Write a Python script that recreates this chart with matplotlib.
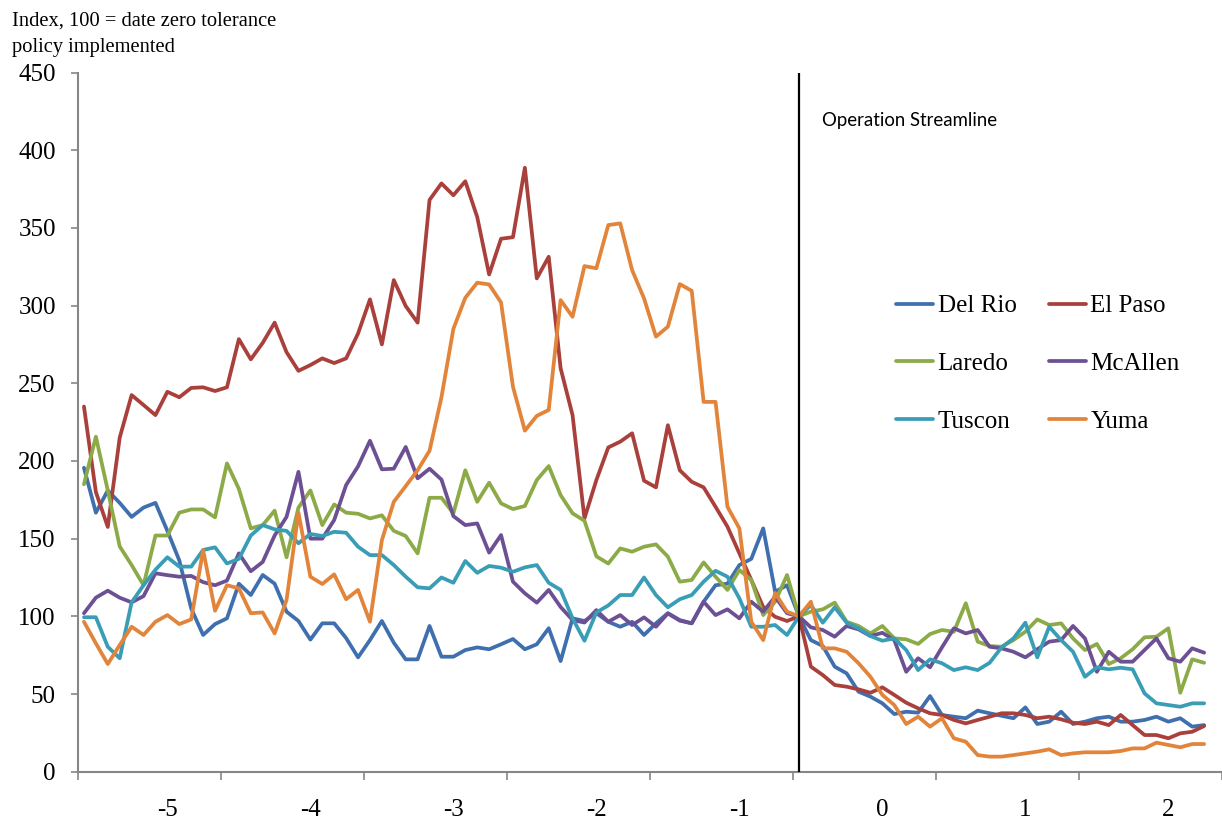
import matplotlib
matplotlib.use("Agg")
import matplotlib.pyplot as plt
import numpy as np

plt.rcParams['font.family'] = ['Liberation Serif', 'DejaVu Serif']

# ---- data (index, 100 = date zero tolerance policy implemented) ----
del_rio = [195.6, 166.7, 181, 173, 164, 170, 173, 155, 136, 105, 88, 95, 98.7, 121, 113.7, 126.6,
           121, 103, 97, 85, 95.5, 95.5, 86, 73.6, 84.7, 97, 83, 72.3, 72.3, 93.8, 74, 74,
           78.3, 80, 78.8, 82, 85.4, 78.8, 82, 92.3, 71.2, 98.7, 97, 102, 96.5, 93.3, 96.5, 88,
           95.5, 102, 97.6, 95.5, 109.4, 120, 121, 133, 137, 156.6, 115.8, 120, 100, 84.7, 80.9, 67.6,
           63.3, 51.5, 48.3, 44, 37.1, 38.6, 38, 48.7, 36.5, 35.4, 34.4, 39.3, 37.6, 36, 34.4, 41.4,
           30.7, 32.2, 38.6, 30.7, 32.2, 34.4, 35.4, 32.2, 32.2, 33.3, 35.4, 32.2, 34.4, 29, 30]
el_paso = [235, 180, 157.5, 215, 242.4, 236, 229.5, 244.5, 241, 247, 247.4, 245, 247.4, 278.4, 265.4, 276,
           289, 270, 258, 261.7, 266, 263, 266, 282, 304, 275, 316.4, 299.7, 289, 368, 378.6, 371,
           380, 357, 320, 343, 344, 388.7, 317.5, 331.4, 259.6, 229.5, 163, 187.7, 208.7, 212.4, 217.8, 187.3,
           183, 223, 194, 186.6, 183, 170.5, 157.7, 140.5, 123.4, 106, 99.7, 97, 100, 67.6, 62.2, 55.8,
           54.7, 53, 50.8, 54.3, 49.4, 44.4, 40.8, 37.6, 36.5, 33.3, 31.1, 33.3, 35.4, 37.6, 37.6, 36.5,
           34.4, 35.4, 33.7, 31.5, 30.7, 32.2, 30, 36.5, 30, 23.6, 23.6, 21.5, 24.7, 25.7, 29.4]
laredo = [185, 215.6, 181, 145, 133, 120, 152, 152, 166.7, 168.8, 168.8, 163.7, 198.4, 182, 156.6, 158.7,
          168, 138, 170, 181, 158.7, 172, 166.7, 166, 163, 165, 155, 151.7, 140.5, 176.3, 176.3, 166.3,
          194, 173.7, 186, 172.7, 169, 171, 187.7, 196.7, 178, 166.3, 161.5, 138.6, 134, 143.7, 141.6, 144.8,
          146.3, 138.4, 122.3, 123.4, 134.7, 125.5, 117, 129.8, 123.4, 100.8, 109.4, 126.6, 100, 103, 104.5, 108.8,
          96.5, 93.8, 89, 93.8, 85.8, 85.2, 82.2, 88.6, 91.2, 90.1, 108.4, 83.7, 80.9, 80.4, 84.7, 90.1,
          98, 94.4, 95.5, 85.8, 78.3, 82.2, 69.3, 73, 78.8, 86.5, 86.9, 92.3, 50.8, 72.3, 70.1]
mcallen = [102, 112, 116.5, 112, 109, 113, 127.7, 126.5, 125.5, 126, 122, 120, 123, 140.5, 129, 135,
           152, 164, 193, 150, 150, 162, 184.5, 196.5, 213, 194.6, 195, 209, 188.8, 195, 188, 164.5,
           158.7, 159.8, 141, 152.3, 122.3, 114.8, 108.8, 117, 106, 97.6, 96, 104, 96.5, 100.8, 94.4, 99.3,
           93.3, 101.9, 97.2, 95.5, 109.4, 100.8, 104.5, 98.7, 109.4, 103, 112.6, 102, 100, 92.9, 91.2, 86.9,
           93.8, 91.6, 87.3, 89.4, 84.7, 64.3, 73, 67.2, 80, 92.3, 89, 91.2, 80.4, 79.4, 77.2, 73.6,
           78.8, 83.7, 84.7, 93.8, 85.8, 64.3, 77.2, 70.8, 70.8, 78.3, 85.8, 73, 70.8, 79.4, 76.6]
tuscon = [99.4, 99.4, 80.4, 73, 109, 120, 130, 138, 132, 132, 142.7, 144.4, 134, 137, 152, 158.7,
          156, 155, 147, 153, 151.7, 154.4, 153.8, 144.8, 139.4, 139.4, 133, 125.5, 118.7, 118, 125, 121.6,
          135.6, 128, 132.4, 131.3, 128.7, 131.5, 133, 121.6, 117, 98.7, 84.3, 102.5, 107, 113.7, 113.7, 125,
          113.7, 105.8, 111, 113.7, 122.3, 129.3, 125.5, 111.6, 93.3, 93.3, 94.4, 88, 100, 107.3, 95.9, 105.8,
          95.9, 92.3, 87.3, 84.3, 85.8, 78.3, 65.4, 72.3, 69.8, 65.4, 67.2, 65.4, 70.1, 80, 85.8, 95.9,
          73.6, 93.3, 84.7, 77.2, 61.1, 67.2, 65.9, 66.9, 65.9, 50.4, 44, 42.9, 41.8, 44, 44]
yuma = [96.5, 82.6, 69.3, 81.5, 93.3, 88, 96.5, 100.8, 95, 98, 142.7, 103.6, 120, 118, 102, 102.5,
        89, 110.5, 166.7, 125.5, 120.8, 127, 111, 117, 96.5, 149, 173.7, 183.8, 194, 206.6, 241, 285,
        305, 314.7, 313.6, 302, 247.8, 219.5, 229, 232.8, 303.5, 292.8, 325.4, 324, 351.8, 352.9, 322.8, 304.6,
        280, 286.4, 313.8, 309.5, 238, 238, 170.5, 156.6, 96.5, 84.7, 115, 103, 100, 109.4, 79.4, 79.4,
        77.2, 69.8, 61.1, 49.4, 42.9, 30.7, 35.4, 29, 34.4, 21.5, 19.3, 10.7, 9.7, 9.7, 10.7, 11.8,
        12.9, 14.4, 10.7, 11.8, 12.5, 12.5, 12.5, 13.3, 15, 15, 18.7, 17.2, 15.7, 17.8, 17.8]

series_names = ["Del Rio", "El Paso", "Laredo", "McAllen", "Tuscon", "Yuma"]
series_values = [del_rio, el_paso, laredo, mcallen, tuscon, yuma]
year_labels = ["-5", "-4", "-3", "-2", "-1", "0", "1", "2"]
policy_index = 60          # month at which the policy was implemented
months_per_year = 12
label_offset = 7           # month within each year where the year label sits

colors = {"Del Rio": "#3F6FAE", "El Paso": "#A9403B", "Laredo": "#8CAB48",
          "McAllen": "#6D5094", "Tuscon": "#399DB6", "Yuma": "#E2843A"}

W, H = 1222, 823
fig = plt.figure(figsize=(W / 100, H / 100), dpi=100)
ax = fig.add_axes([78 / W, (H - 771.7) / H, (W - 78) / W, (771.7 - 72.5) / H])

lines = {}
for name, vals in zip(series_names, series_values):
    x = np.arange(len(vals))
    ln, = ax.plot(x, vals, color=colors[name], lw=2.7, solid_joinstyle='round',
                  solid_capstyle='round', label=name, zorder=3)
    lines[name] = ln

ax.axvline(policy_index, color='black', lw=1.6, zorder=4)
ax.text(policy_index + 1.9, 419, "Operation Streamline", family=['Lato', 'DejaVu Sans'],
        fontsize=13.4, va='center', ha='left')

n = len(del_rio)
ax.set_xlim(-0.5, (W - 84) / ((1206 - 84) / (n - 1)))
ax.set_ylim(0, 450)

# axes styling
for s in ['top', 'right']:
    ax.spines[s].set_visible(False)
for s in ['left', 'bottom']:
    ax.spines[s].set_color('#868686')
    ax.spines[s].set_linewidth(1.5)

ax.set_yticks(np.arange(0, 451, 50))
ax.tick_params(axis='y', which='major', direction='out', length=5, width=1.2,
               color='#868686', labelsize=18, pad=11)

major_x = [-0.5 + months_per_year * k for k in range(len(year_labels) + 1)]
ax.set_xticks(major_x)
ax.set_xticklabels([])
ax.tick_params(axis='x', which='major', direction='out', length=6, width=1.2, color='#868686')
minor_x = [label_offset + months_per_year * k for k in range(len(year_labels))]
ax.set_xticks(minor_x, minor=True)
ax.set_xticklabels(year_labels, minor=True)
ax.tick_params(axis='x', which='minor', length=0, labelsize=18, pad=20)

# legend (row-wise order: Del Rio/El Paso, Laredo/McAllen, Tuscon/Yuma)
order = ["Del Rio", "Laredo", "Tuscon", "El Paso", "McAllen", "Yuma"]
leg = fig.legend([lines[k] for k in order], order, ncol=2, loc='upper left',
                 bbox_to_anchor=(896 / W, 1 - 295 / H), bbox_transform=fig.transFigure,
                 frameon=False, fontsize=18, handlelength=1.48, handletextpad=0.18,
                 columnspacing=1.3, labelspacing=1.4, borderpad=0, borderaxespad=0)

fig.text(12 / W, 1 - 12 / H, "Index, 100 = date zero tolerance\npolicy implemented",
         fontsize=14.8, va='top', ha='left', linespacing=1.5)

fig.savefig("out.png", dpi=100)
